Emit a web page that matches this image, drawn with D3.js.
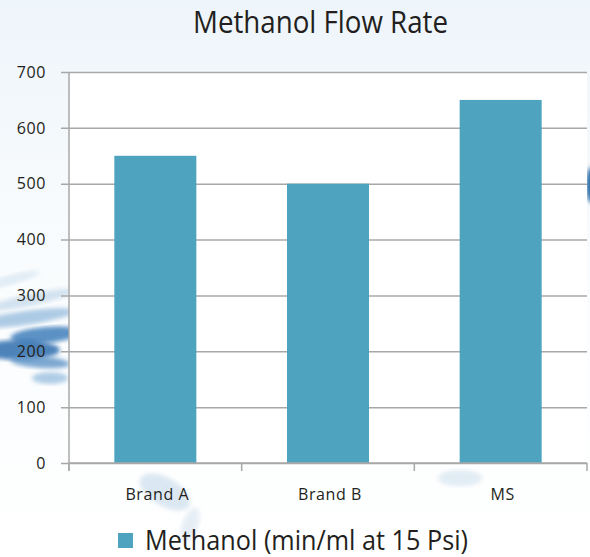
<!DOCTYPE html>
<html>
<head>
<meta charset="utf-8">
<title>Methanol Flow Rate</title>
<script src="https://d3js.org/d3.v7.min.js"></script>
<style>
	body { margin: 0; background: #ffffff; }
	svg text { font-family: "Open Sans", "DejaVu Sans", sans-serif; fill: #231f20; }
</style>
</head>
<body>
<div id="chart"></div>
<script>
	// chart data
	var categories = ["Brand A", "Brand B", "MS"];
	var values = [550, 500, 650];
	var yTicks = [0, 100, 200, 300, 400, 500, 600, 700];
	var seriesName = "Methanol (min/ml at 15 Psi)";
	var title = "Methanol Flow Rate";

	var w = 590;
	var h = 557;
	var margin = { top: 72, right: 3, bottom: 94, left: 69 };
	var barColor = "#4ea4be";
	var gridColor = "#a8a8a8";

	var svg = d3.select("#chart")
		.append("svg")
		.attr("width", w)
		.attr("height", h);

	// soft watercolor background
	var defs = svg.append("defs");
	var bg = defs.append("linearGradient")
		.attr("id", "bg")
		.attr("x1", 0).attr("y1", 0).attr("x2", 0).attr("y2", 1);
	bg.append("stop").attr("offset", "0%").attr("stop-color", "#eef5fa");
	bg.append("stop").attr("offset", "40%").attr("stop-color", "#f8fbfd");
	bg.append("stop").attr("offset", "100%").attr("stop-color", "#ffffff");
	defs.append("filter").attr("id", "blur")
		.append("feGaussianBlur").attr("stdDeviation", 6);
	defs.append("filter").attr("id", "blur2")
		.append("feGaussianBlur").attr("stdDeviation", 2);

	svg.append("rect")
		.attr("width", w).attr("height", h)
		.attr("fill", "url(#bg)");

	// splash streaks: [cx, cy, rx, ry, colour, opacity, angle]
	var streaks = [
		[30, 300, 45, 6, "#c9dcec", 0.8, -12],
		[25, 318, 50, 7, "#8db6da", 0.7, -8],
		[45, 335, 35, 8, "#3f7fbb", 0.85, -5],
		[20, 350, 40, 10, "#2f6eae", 0.85, 0],
		[40, 362, 30, 6, "#5d93c6", 0.8, 4],
		[50, 378, 18, 6, "#8fb8dc", 0.7, 0],
		[10, 280, 30, 5, "#dbe8f3", 0.8, -15],
		[165, 492, 28, 14, "#d3e2ef", 0.8, 30],
		[190, 525, 8, 18, "#dde8f2", 0.7, 20],
		[460, 478, 22, 8, "#dbe8f2", 0.8, 0],
		[592, 185, 6, 18, "#2f6ea8", 1, 0]
	];
	svg.append("g")
		.selectAll("ellipse")
		.data(streaks)
		.enter()
		.append("ellipse")
		.attr("cx", function(d) { return d[0]; })
		.attr("cy", function(d) { return d[1]; })
		.attr("rx", function(d) { return d[2]; })
		.attr("ry", function(d) { return d[3]; })
		.attr("fill", function(d) { return d[4]; })
		.attr("opacity", function(d) { return d[5]; })
		.attr("transform", function(d) { return "rotate(" + d[6] + "," + d[0] + "," + d[1] + ")"; })
		.attr("filter", "url(#blur2)");

	// scales
	var x = d3.scaleBand()
		.domain(categories)
		.range([margin.left, w - margin.right])
		.paddingInner(0.525)
		.paddingOuter(0.2625);

	var y = d3.scaleLinear()
		.domain([0, 700])
		.range([h - margin.bottom, margin.top]);

	// plot area
	svg.append("rect")
		.attr("x", margin.left)
		.attr("y", margin.top)
		.attr("width", w - margin.right - margin.left)
		.attr("height", y(0) - margin.top)
		.attr("fill", "#ffffff");

	// gridlines with outside ticks
	svg.append("g")
		.attr("transform", "translate(" + margin.left + ",0)")
		.call(d3.axisLeft(y)
			.tickValues(yTicks)
			.tickSize(-(w - margin.right - margin.left))
			.tickSizeOuter(0)
			.tickFormat(""))
		.call(function(g) {
			g.select(".domain").remove();
			g.selectAll("line")
				.attr("x1", -8)
				.attr("stroke", gridColor)
				.attr("stroke-width", 1.5);
		});

	// y labels
	svg.append("g")
		.selectAll("text")
		.data(yTicks)
		.enter()
		.append("text")
		.attr("x", 46)
		.attr("y", function(d) { return y(d); })
		.attr("dy", "0.36em")
		.attr("text-anchor", "end")
		.style("font-size", "16px")
		.style("letter-spacing", "0.6px")
		.text(function(d) { return d; });

	// bars
	svg.selectAll(".bar")
		.data(values)
		.enter()
		.append("rect")
		.attr("class", "bar")
		.attr("x", function(d, i) { return x(categories[i]); })
		.attr("y", function(d) { return y(d); })
		.attr("width", x.bandwidth())
		.attr("height", function(d) { return y(0) - y(d); })
		.attr("fill", barColor);

	// y axis line
	svg.append("line")
		.attr("x1", margin.left).attr("x2", margin.left)
		.attr("y1", margin.top).attr("y2", y(0) + 8)
		.attr("stroke", gridColor)
		.attr("stroke-width", 1.5);

	// x axis line + ticks between categories
	var bounds = d3.range(categories.length + 1).map(function(i) {
		return margin.left + i * (w - margin.right - margin.left) / categories.length;
	});
	svg.append("line")
		.attr("x1", margin.left).attr("x2", w - margin.right)
		.attr("y1", y(0)).attr("y2", y(0))
		.attr("stroke", gridColor)
		.attr("stroke-width", 1.5);
	svg.selectAll(".xtick")
		.data(bounds)
		.enter()
		.append("line")
		.attr("class", "xtick")
		.attr("x1", function(d) { return d; })
		.attr("x2", function(d) { return d; })
		.attr("y1", y(0))
		.attr("y2", y(0) + 8)
		.attr("stroke", gridColor)
		.attr("stroke-width", 1.5);

	// category labels
	svg.selectAll(".xlabel")
		.data(categories)
		.enter()
		.append("text")
		.attr("class", "xlabel")
		.attr("x", function(d) { return x(d) + x.bandwidth() / 2 + 2; })
		.attr("y", 500)
		.attr("text-anchor", "middle")
		.style("font-size", "16px")
		.style("letter-spacing", "0.6px")
		.text(function(d) { return d; });

	// title
	svg.append("text")
		.attr("x", 193)
		.attr("y", 33)
		.attr("textLength", 255)
		.attr("lengthAdjust", "spacingAndGlyphs")
		.style("font-size", "31px")
		.text(title);

	// legend
	svg.append("rect")
		.attr("x", 118)
		.attr("y", 533)
		.attr("width", 15)
		.attr("height", 15)
		.attr("fill", barColor);
	svg.append("text")
		.attr("x", 145)
		.attr("y", 550)
		.attr("textLength", 323)
		.attr("lengthAdjust", "spacingAndGlyphs")
		.style("font-size", "28px")
		.text(seriesName);
</script>
</body>
</html>
